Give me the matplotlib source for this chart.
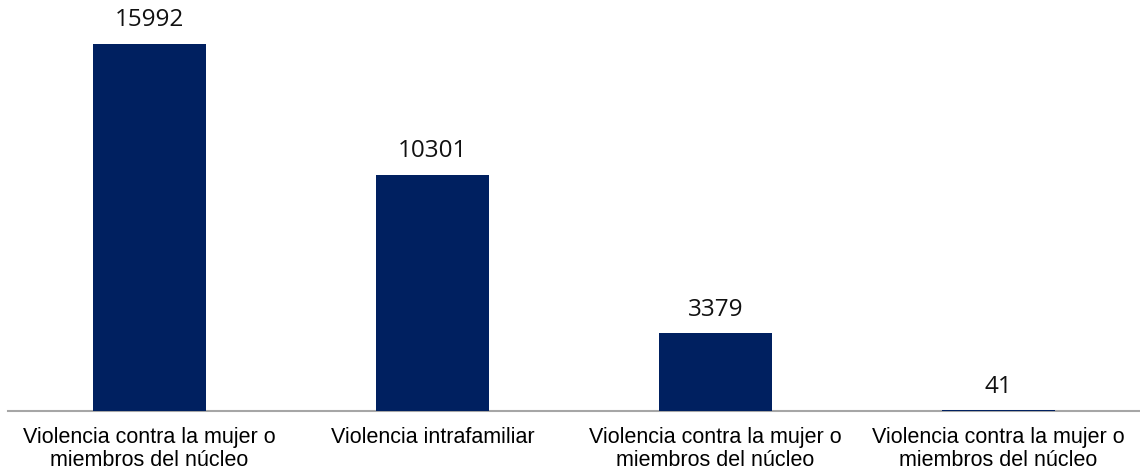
import matplotlib.pyplot as plt
import numpy as np

# datos
categorias = ['Violencia contra la mujer o\nmiembros del núcleo',
              'Violencia intrafamiliar',
              'Violencia contra la mujer o\nmiembros del núcleo',
              'Violencia contra la mujer o\nmiembros del núcleo']
valores = [15992, 10301, 3379, 41]

color_barra = '#002060'

fig = plt.figure(figsize=(11.4, 4.77), dpi=100)
ax = fig.add_axes([8/1140, 65/477, 1 - 8/1140, 412/477])

x = np.arange(len(valores))
ax.bar(x, valores, width=0.40, color=color_barra, zorder=3)

# etiquetas de valor
for xi, v in zip(x, valores):
    ax.annotate(str(v), (xi, v), xytext=(0, 9), textcoords='offset points',
                ha='center', va='bottom', fontsize=17.5, family='Open Sans',
                color='#111111')

ax.set_xlim(-0.5, 3.5)
ax.set_ylim(0, 15992 * 412 / 367)
ax.set_xticks(x)
ax.set_xticklabels(categorias, fontsize=15.5, family='Liberation Sans',
                   linespacing=1.12)
ax.tick_params(axis='x', length=0, pad=11)
ax.set_yticks([])

for s in ['top', 'right', 'left']:
    ax.spines[s].set_visible(False)
ax.spines['bottom'].set_color('#a6a6a6')
ax.spines['bottom'].set_linewidth(1.5)

fig.savefig('out.png', dpi=100)
